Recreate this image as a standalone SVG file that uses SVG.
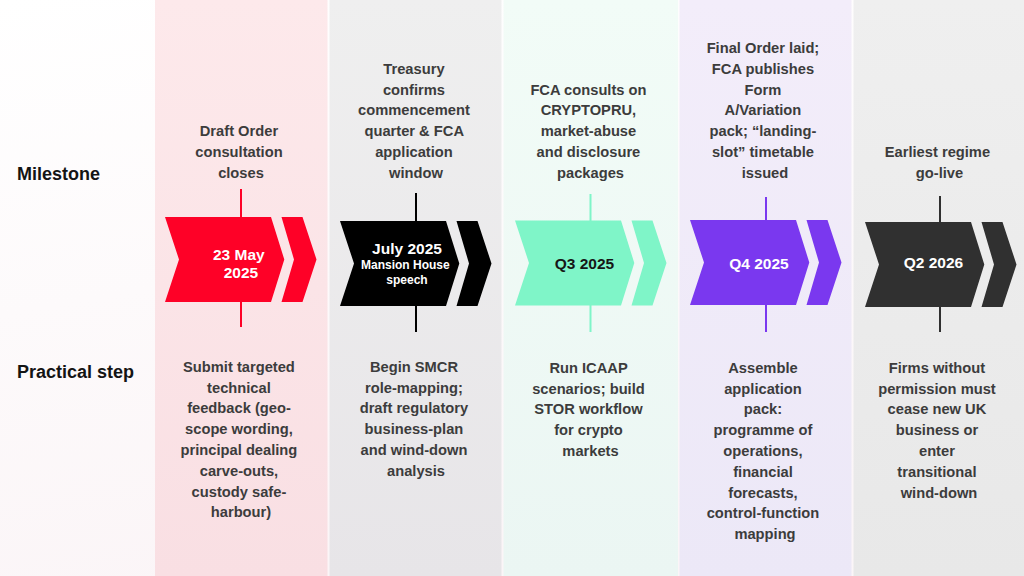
<svg xmlns="http://www.w3.org/2000/svg" width="1024" height="576" viewBox="0 0 1024 576">
  <defs>
    <linearGradient id="gLeft" x1="0" y1="0" x2="0.3" y2="1">
      <stop offset="0" stop-color="#ffffff"/>
      <stop offset="1" stop-color="#fbf5f7"/>
    </linearGradient>
    <linearGradient id="gPink" x1="0" y1="0" x2="0" y2="1">
      <stop offset="0" stop-color="#fde9eb"/>
      <stop offset="1" stop-color="#f9dfe3"/>
    </linearGradient>
    <linearGradient id="gGrey1" x1="0" y1="0" x2="0" y2="1">
      <stop offset="0" stop-color="#efefef"/>
      <stop offset="1" stop-color="#e7e5e8"/>
    </linearGradient>
    <linearGradient id="gMint" x1="0" y1="0" x2="0" y2="1">
      <stop offset="0" stop-color="#f2fcf7"/>
      <stop offset="1" stop-color="#ebf6f3"/>
    </linearGradient>
    <linearGradient id="gLav" x1="0" y1="0" x2="0" y2="1">
      <stop offset="0" stop-color="#f3edfa"/>
      <stop offset="1" stop-color="#ece8f7"/>
    </linearGradient>
    <linearGradient id="gGrey2" x1="0" y1="0" x2="0" y2="1">
      <stop offset="0" stop-color="#efefef"/>
      <stop offset="1" stop-color="#e8e8e8"/>
    </linearGradient>
    <path id="chev" d="M0,0 H106 L119.3,42.5 L106,85 H0 L14,42.5 Z M116.5,0 H137.5 L151.5,42.5 L137.5,85 H116.5 L129,42.5 Z"/>
  </defs>
  <style>
    .lbl { font-family: "Liberation Sans", Arial, sans-serif; font-weight: bold; font-size: 18px; fill: #141414; }
    .t { font-family: "Liberation Sans", Arial, sans-serif; font-weight: bold; font-size: 14.7px; fill: #3c3c3c; text-anchor: middle; }
    .c { font-family: "Liberation Sans", Arial, sans-serif; font-weight: bold; font-size: 15.5px; text-anchor: middle; }
    .cs { font-family: "Liberation Sans", Arial, sans-serif; font-weight: bold; font-size: 12px; text-anchor: middle; }
    .w { fill: #ffffff; }
    .k { fill: #161616; }
    .ln { stroke-width: 2; fill: none; }
  </style>

  <rect x="0" y="0" width="1024" height="576" fill="url(#gLeft)"/>

  <g id="row-labels">
    <text class="lbl" x="17" y="180">Milestone</text>
    <text class="lbl" x="17" y="377.5">Practical step</text>
  </g>

  <g id="col1">
    <rect x="155" y="0" width="172.5" height="576" fill="url(#gPink)"/>
    <text class="t">
      <tspan x="241" y="136.2">Draft Order</tspan>
      <tspan x="241" y="157">consultation</tspan>
      <tspan x="241" y="177.8">closes</tspan>
    </text>
    <use href="#chev" transform="translate(165,217)" fill="#fe0127"/>
    <text class="c w">
      <tspan x="241" y="259.5">23 May</tspan>
      <tspan x="241" y="278">2025</tspan>
    </text>
    <text class="t">
      <tspan x="241" y="371.8">Submit targeted</tspan>
      <tspan x="241" y="392.6">technical</tspan>
      <tspan x="241" y="413.4">feedback (geo-</tspan>
      <tspan x="241" y="434.2">scope wording,</tspan>
      <tspan x="241" y="455">principal dealing</tspan>
      <tspan x="241" y="475.8">carve-outs,</tspan>
      <tspan x="241" y="496.6">custody safe-</tspan>
      <tspan x="241" y="517.4">harbour)</tspan>
    </text>
  </g>

  <g id="col2">
    <rect x="329.5" y="0" width="172" height="576" fill="url(#gGrey1)"/>
    <text class="t">
      <tspan x="416" y="73.8">Treasury</tspan>
      <tspan x="416" y="94.6">confirms</tspan>
      <tspan x="416" y="115.4">commencement</tspan>
      <tspan x="416" y="136.2">quarter &amp; FCA</tspan>
      <tspan x="416" y="157">application</tspan>
      <tspan x="416" y="177.8">window</tspan>
    </text>
    <use href="#chev" transform="translate(340,221)" fill="#000000"/>
    <text class="c w"><tspan x="407" y="253.8">July 2025</tspan></text>
    <text class="cs w">
      <tspan x="407" y="269.3">Mansion House</tspan>
      <tspan x="407" y="284.3">speech</tspan>
    </text>
    <text class="t">
      <tspan x="416" y="371.8">Begin SMCR</tspan>
      <tspan x="416" y="392.6">role-mapping;</tspan>
      <tspan x="416" y="413.4">draft regulatory</tspan>
      <tspan x="416" y="434.2">business-plan</tspan>
      <tspan x="416" y="455">and wind-down</tspan>
      <tspan x="416" y="475.8">analysis</tspan>
    </text>
  </g>

  <g id="col3">
    <rect x="503.5" y="0" width="174.5" height="576" fill="url(#gMint)"/>
    <text class="t">
      <tspan x="590.5" y="94.6">FCA consults on</tspan>
      <tspan x="590.5" y="115.4">CRYPTOPRU,</tspan>
      <tspan x="590.5" y="136.2">market-abuse</tspan>
      <tspan x="590.5" y="157">and disclosure</tspan>
      <tspan x="590.5" y="177.8">packages</tspan>
    </text>
    <use href="#chev" transform="translate(515,220.5)" fill="#7ff5c8"/>
    <text class="c k"><tspan x="584.5" y="268.8">Q3 2025</tspan></text>
    <text class="t">
      <tspan x="590.5" y="372.8">Run ICAAP</tspan>
      <tspan x="590.5" y="393.6">scenarios; build</tspan>
      <tspan x="590.5" y="414.4">STOR workflow</tspan>
      <tspan x="590.5" y="435.2">for crypto</tspan>
      <tspan x="590.5" y="456">markets</tspan>
    </text>
  </g>

  <g id="col4">
    <rect x="679.5" y="0" width="172" height="576" fill="url(#gLav)"/>
    <text class="t">
      <tspan x="765" y="53">Final Order laid;</tspan>
      <tspan x="765" y="73.8">FCA publishes</tspan>
      <tspan x="765" y="94.6">Form</tspan>
      <tspan x="765" y="115.4">A/Variation</tspan>
      <tspan x="765" y="136.2">pack; “landing-</tspan>
      <tspan x="765" y="157">slot” timetable</tspan>
      <tspan x="765" y="177.8">issued</tspan>
    </text>
    <use href="#chev" transform="translate(690,220)" fill="#7a38ef"/>
    <text class="c w"><tspan x="759" y="268.8">Q4 2025</tspan></text>
    <text class="t">
      <tspan x="765" y="372.8">Assemble</tspan>
      <tspan x="765" y="393.6">application</tspan>
      <tspan x="765" y="414.4">pack:</tspan>
      <tspan x="765" y="435.2">programme of</tspan>
      <tspan x="765" y="456">operations,</tspan>
      <tspan x="765" y="476.8">financial</tspan>
      <tspan x="765" y="497.6">forecasts,</tspan>
      <tspan x="765" y="518.4">control-function</tspan>
      <tspan x="765" y="539.2">mapping</tspan>
    </text>
  </g>

  <g id="col5">
    <rect x="853.5" y="0" width="170.5" height="576" fill="url(#gGrey2)"/>
    <text class="t">
      <tspan x="939.5" y="157">Earliest regime</tspan>
      <tspan x="939.5" y="177.8">go-live</tspan>
    </text>
    <use href="#chev" transform="translate(865,222)" fill="#303030"/>
    <text class="c w"><tspan x="933.5" y="268.3">Q2 2026</tspan></text>
    <text class="t">
      <tspan x="939" y="372.8">Firms without</tspan>
      <tspan x="939" y="393.6">permission must</tspan>
      <tspan x="939" y="414.4">cease new UK</tspan>
      <tspan x="939" y="435.2">business or</tspan>
      <tspan x="939" y="456">enter</tspan>
      <tspan x="939" y="476.8">transitional</tspan>
      <tspan x="939" y="497.6">wind-down</tspan>
    </text>
  </g>

  <g id="connectors">
    <line class="ln" x1="241" y1="189" x2="241" y2="217" stroke="#fe0127"/>
    <line class="ln" x1="241" y1="302" x2="241" y2="327" stroke="#fe0127"/>
    <line class="ln" x1="416" y1="193" x2="416" y2="221" stroke="#000000"/>
    <line class="ln" x1="416" y1="306" x2="416" y2="332" stroke="#000000"/>
    <line class="ln" x1="590.5" y1="194" x2="590.5" y2="221" stroke="#7ff5c8"/>
    <line class="ln" x1="590.5" y1="305" x2="590.5" y2="332" stroke="#7ff5c8"/>
    <line class="ln" x1="766" y1="197" x2="766" y2="220" stroke="#7a38ef"/>
    <line class="ln" x1="766" y1="305" x2="766" y2="332" stroke="#7a38ef"/>
    <line class="ln" x1="940" y1="196" x2="940" y2="222" stroke="#303030"/>
    <line class="ln" x1="940" y1="307" x2="940" y2="332" stroke="#303030"/>
  </g>
</svg>
